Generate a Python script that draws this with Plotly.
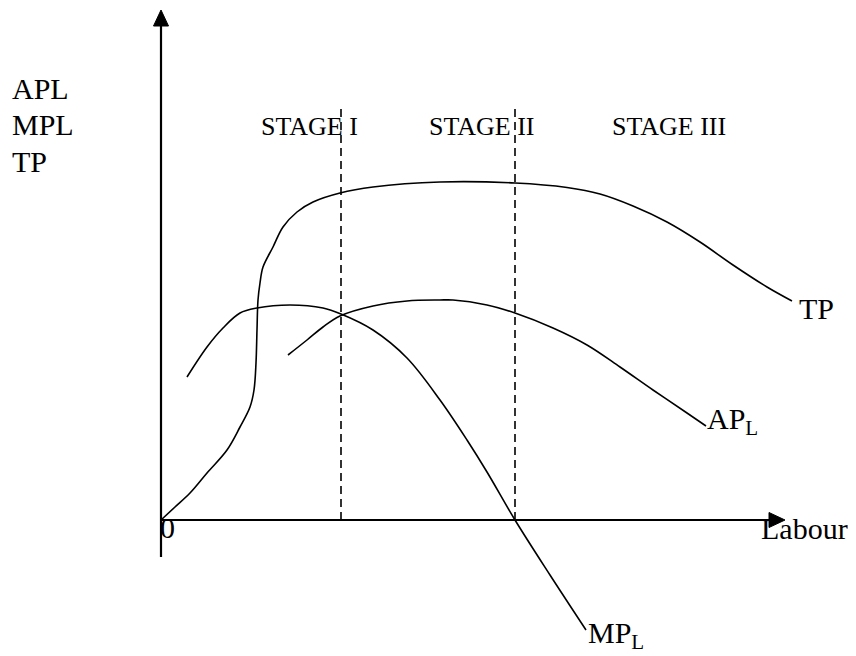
import plotly.graph_objects as go

# ---- data (labour units on x, output units on y) ----
tp_x = [0, 1.4, 2.9, 4.6, 6.6, 7.9, 8.9, 9.3, 9.5, 9.6, 9.7, 9.9, 10.2, 11.2, 12.2, 13.6, 15.2, 17.9, 21.2,
        27.9, 35.4, 40.6, 43.9, 47.2, 50.6, 53.9, 57.2, 60.6, 63.1]
tp_y = [0, 1.3, 2.7, 4.7, 7.0, 9.3, 11.3, 13.0, 15.7, 19.0, 22.0, 23.7, 25.3, 27.3, 29.3, 30.8, 31.8, 32.7, 33.3,
        33.8, 33.7, 33.25, 32.6, 31.4, 29.8, 27.8, 25.5, 23.3, 21.9]

ap_x = [12.7, 14.6, 16.2, 17.9, 21.2, 24.6, 27.9, 29.2, 32.6, 35.4, 39.2, 42.6, 45.9, 49.2, 52.6, 54.5]
ap_y = [16.5, 18.0, 19.3, 20.4, 21.4, 21.9, 22.0, 22.0, 21.5, 20.7, 19.2, 17.5, 15.3, 13.0, 10.7, 9.4]

mp_x = [2.6, 4.6, 6.2, 7.9, 9.6, 12.9, 16.2, 18.0, 21.2, 24.6, 27.9, 30.6, 32.6, 35.4, 38.9, 42.5]
mp_y = [14.3, 17.3, 19.2, 20.7, 21.2, 21.5, 21.2, 20.6, 19.0, 16.2, 12.0, 8.0, 4.8, 0.0, -5.5, -11.0]

stage_bounds = [18.0, 35.4]          # dashed stage boundaries (labour)
stage_top = 41.2                     # height of the dashed lines
stage_names = ["STAGE I", "STAGE II", "STAGE III"]
stage_label_x = [9.8, 26.6, 44.9]
stage_label_y = 39.4

y_axis_labels = ["APL", "MPL", "TP"]
y_axis_label_y = [43.15, 39.55, 35.85]
y_axis_label_x = -15.1

x_axis_end = 62.4
y_axis_top = 51.0
y_axis_bottom = -3.7

FONT = "Liberation Serif, Times New Roman, serif"

fig = go.Figure()

line_style = dict(color="black", width=1.6, shape="spline", smoothing=1.0)
fig.add_trace(go.Scatter(x=tp_x, y=tp_y, mode="lines", line=line_style, hoverinfo="skip"))
fig.add_trace(go.Scatter(x=ap_x, y=ap_y, mode="lines", line=line_style, hoverinfo="skip"))
fig.add_trace(go.Scatter(x=mp_x, y=mp_y, mode="lines", line=line_style, hoverinfo="skip"))

# dashed stage boundaries
for xb in stage_bounds:
    fig.add_trace(go.Scatter(x=[xb, xb], y=[0, stage_top], mode="lines",
                             line=dict(color="black", width=1.6, dash="8px,5px"), hoverinfo="skip"))

# axes
fig.add_trace(go.Scatter(x=[0, 0], y=[y_axis_bottom, y_axis_top - 1.0], mode="lines",
                         line=dict(color="black", width=2.2), hoverinfo="skip"))
fig.add_trace(go.Scatter(x=[0, x_axis_end - 1.0], y=[0, 0], mode="lines",
                         line=dict(color="black", width=2.2), hoverinfo="skip"))

# arrow heads (derived from the axis ends)
head_len, head_half = 1.6, 0.75
fig.add_shape(type="path", xref="x", yref="y",
              path=f"M 0 {y_axis_top} L {-head_half} {y_axis_top - head_len} "
                   f"L {head_half} {y_axis_top - head_len} Z",
              fillcolor="black", line=dict(color="black", width=1))
fig.add_shape(type="path", xref="x", yref="y",
              path=f"M {x_axis_end} 0 L {x_axis_end - head_len} {-head_half} "
                   f"L {x_axis_end - head_len} {head_half} Z",
              fillcolor="black", line=dict(color="black", width=1))

def label(x, y, text, size=30):
    fig.add_annotation(x=x, y=y, text=text, showarrow=False, xanchor="left", yanchor="middle",
                       font=dict(family=FONT, size=size, color="black"))

for t, yy in zip(y_axis_labels, y_axis_label_y):
    label(y_axis_label_x, yy, t)
for t, xx in zip(stage_names, stage_label_x):
    label(xx, stage_label_y, t, size=26)

label(tp_x[-1] + 0.5, 21.15, "TP")
label(ap_x[-1] - 0.1, 9.95, "AP<sub>L</sub>")
label(mp_x[-1] + 0.0, -11.5, "MP<sub>L</sub>")
label(-0.3, -0.7, "0")
label(x_axis_end - 2.6, -0.8, "Labour")

# the page body adds an 8px margin, so the figure covers page pixels 8..856 / 8..656
fig.update_layout(
    width=848, height=648, autosize=False,
    margin=dict(l=0, r=0, t=0, b=0, pad=0),
    paper_bgcolor="white", plot_bgcolor="white",
    showlegend=False,
    xaxis=dict(range=[-15.3, 69.5], visible=False, fixedrange=True),
    yaxis=dict(range=[-13.6, 51.2], visible=False, fixedrange=True),
)

fig.write_html("out.html")
